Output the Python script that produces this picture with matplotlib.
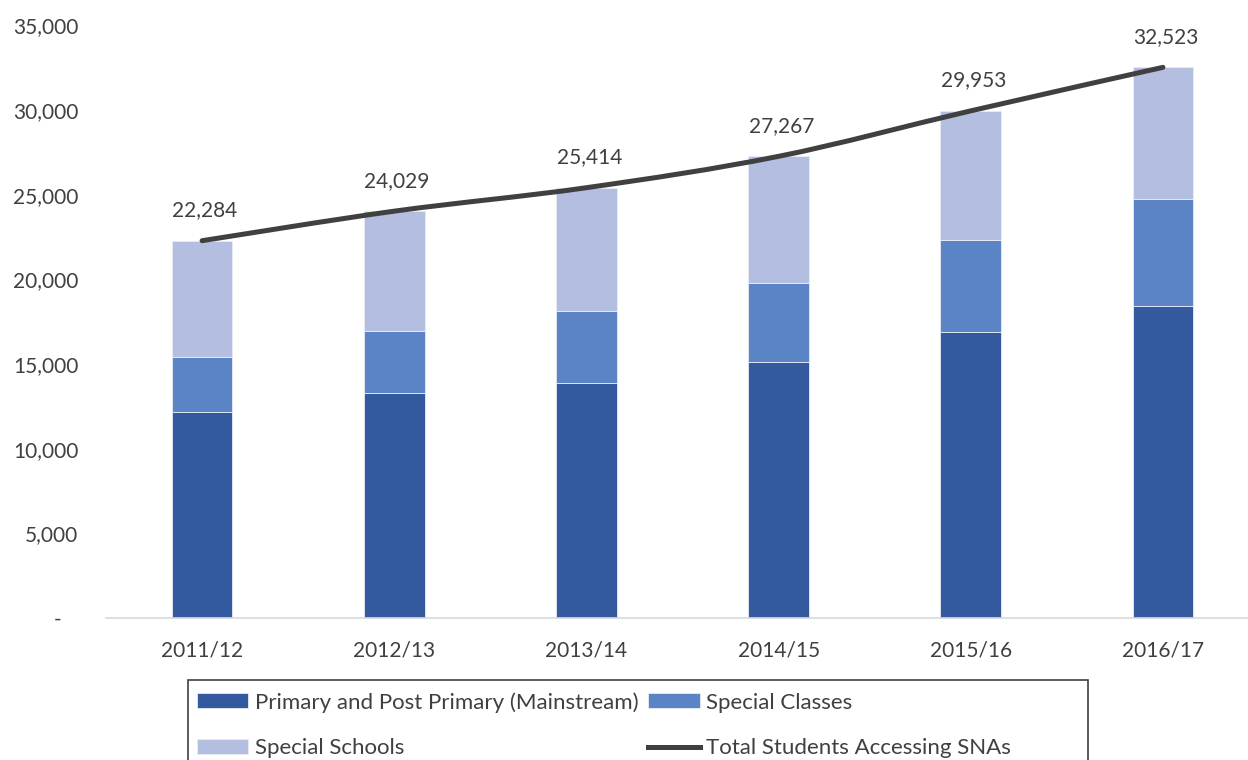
import numpy as np
import matplotlib
matplotlib.use("Agg")
import matplotlib.pyplot as plt
from matplotlib.path import Path
from matplotlib.patches import PathPatch, Rectangle
from matplotlib.ticker import FuncFormatter

plt.rcParams['font.family'] = ['Lato', 'DejaVu Sans']

years = ["2011/12", "2012/13", "2013/14", "2014/15", "2015/16", "2016/17"]
mainstream = [12150, 13270, 13900, 15100, 16870, 18450]
special_classes = [3280, 3660, 4230, 4700, 5470, 6310]
special_schools = [6854, 7099, 7284, 7467, 7613, 7763]
total_snas = [22284, 24029, 25414, 27267, 29953, 32523]

C_MAIN = "#33599E"
C_CLASS = "#5B84C7"
C_SCHOOL = "#B4BEE1"
C_LINE = "#404040"
C_TEXT = "#404040"
FS = 15

fig = plt.figure(figsize=(12.48, 7.6), dpi=100)
ax = fig.add_axes([106 / 1248, 1 - 618 / 760, 1153 / 1248, (618 - 25.4) / 760])

x = np.arange(len(years))
w = 0.315
b1 = np.array(mainstream)
b2 = b1 + np.array(special_classes)
ax.bar(x, mainstream, w, color=C_MAIN, edgecolor="#E8ECF6", linewidth=0.6,
       label="Primary and Post Primary (Mainstream)")
ax.bar(x, special_classes, w, bottom=b1, color=C_CLASS, edgecolor="#E8ECF6", linewidth=0.6,
       label="Special Classes")
ax.bar(x, special_schools, w, bottom=b2, color=C_SCHOOL, edgecolor="#E8ECF6", linewidth=0.6,
       label="Special Schools")

# smoothed total line (Excel-style bezier through the points)
pts = np.column_stack([x, total_snas]).astype(float)
verts = [pts[0]]
codes = [Path.MOVETO]
n = len(pts)
for i in range(n - 1):
    p_prev = pts[i - 1] if i > 0 else pts[i]
    p_next2 = pts[i + 2] if i + 2 < n else pts[i + 1]
    c1 = pts[i] + (pts[i + 1] - p_prev) / 6
    c2 = pts[i + 1] - (p_next2 - pts[i]) / 6
    verts += [c1, c2, pts[i + 1]]
    codes += [Path.CURVE4] * 3
ax.add_patch(PathPatch(Path(verts, codes), facecolor="none", edgecolor=C_LINE,
                       linewidth=3.6, capstyle="round", zorder=3))
ax.plot([], [], color=C_LINE, linewidth=3.6, label="Total Students Accessing SNAs")

for xi, v in zip(x, total_snas):
    ax.annotate(f"{v:,}", (xi, v), xytext=(2, 22), textcoords="offset points",
                ha="center", va="center", fontsize=FS, color=C_TEXT)

ax.set_xlim(-0.5, len(years) - 0.5)
ax.set_ylim(0, 35000)
ax.set_yticks(range(0, 35001, 5000))
ax.yaxis.set_major_formatter(FuncFormatter(lambda v, p: "-   " if v == 0 else f"{int(v):,}"))
ax.set_xticks(x)
ax.set_xticklabels(years)
ax.tick_params(axis="y", length=0, pad=20, labelsize=FS, labelcolor=C_TEXT)
ax.tick_params(axis="x", length=0, pad=16, labelsize=FS, labelcolor=C_TEXT)
for s in ["top", "right", "left"]:
    ax.spines[s].set_visible(False)
ax.spines["bottom"].set_color("#D9D9D9")
ax.spines["bottom"].set_linewidth(1.2)

# legend fills column-wise: primary/schools in col 1, classes/total in col 2
handles, labels = ax.get_legend_handles_labels()
order = [1, 3, 2, 0]
handles = [handles[i] for i in order]
labels = [labels[i] for i in order]
leg = fig.legend(handles, labels, ncol=2, loc="upper left",
                 bbox_to_anchor=(197 / 1248, 1 - 692 / 760), frameon=False,
                 fontsize=16, handlelength=2.3, handleheight=0.65, handletextpad=0.3,
                 columnspacing=0.45, labelspacing=1.15, borderpad=0, borderaxespad=0)
for t in leg.get_texts():
    t.set_color(C_TEXT)

fig.patches.append(Rectangle((188 / 1248, -0.05), 900 / 1248, 0.05 + 1 - 680 / 760,
                             transform=fig.transFigure, fill=False,
                             edgecolor="#404040", linewidth=1.2))

fig.savefig("out.png", dpi=100)
